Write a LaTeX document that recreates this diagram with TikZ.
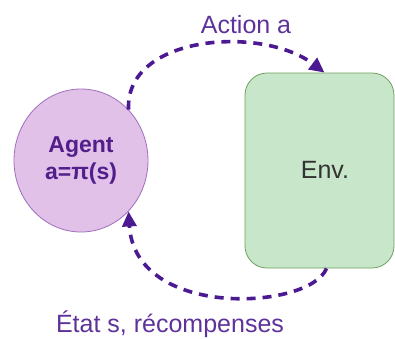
\documentclass[tikz,border=0pt]{standalone}
\usepackage{fontspec}
\setmainfont{Liberation Sans}
\usetikzlibrary{arrows.meta,shapes.geometric}

\definecolor{agentfill}{RGB}{225,193,232}
\definecolor{agentline}{RGB}{160,110,190}
\definecolor{agenttext}{RGB}{82,30,140}
\definecolor{envfill}{RGB}{200,230,201}
\definecolor{envline}{RGB}{110,160,95}
\definecolor{flow}{RGB}{75,25,145}
\definecolor{flowtext}{RGB}{95,50,155}

\tikzset{
  agentnode/.style={ellipse, draw=agentline, line width=0.8pt, fill=agentfill,
    minimum width=134pt, minimum height=143pt, inner sep=0pt,
    text=agenttext, font=\fontsize{23}{27}\selectfont\bfseries, align=center},
  envnode/.style={rectangle, rounded corners=22pt, draw=envline, line width=0.8pt,
    fill=envfill, minimum width=149pt, minimum height=195pt, inner sep=0pt,
    text={black!80}, font=\fontsize{25}{30}\selectfont},
  flowarrow/.style={draw=flow, line width=3.6pt, dash pattern=on 9pt off 7pt,
    -{Triangle[length=15pt,width=14pt]}},
  flowlabel/.style={text=flowtext, font=\fontsize{25}{30}\selectfont, inner sep=0pt}
}

\begin{document}
\begin{tikzpicture}[x=1pt,y=-1pt]
  \useasboundingbox (0,0) rectangle (395,338);

  % the agent and its environment
  \node[agentnode] (agent) at (81,160.5) {Agent\\a=π(s)};
  \node[envnode] (env) at (319.5,170.5) {};
  \node[font=\fontsize{25}{30}\selectfont, text={black!80}, inner sep=0pt] (envlabel) at (325,170) {Env.};

  % action sent from the agent to the environment
  \draw[flowarrow] (agent.47) .. controls (125,35) and (262,25) .. ([xshift=5pt]env.north);
  % state and rewards returned to the agent
  \draw[flowarrow] ([xshift=7pt]env.south) .. controls (310,310) and (135,320) .. (agent.-47);

  \node[flowlabel] (actionlabel) at (246,25) {Action a};
  \node[flowlabel] (statelabel) at (170,324) {État s, récompenses};
\end{tikzpicture}
\end{document}
